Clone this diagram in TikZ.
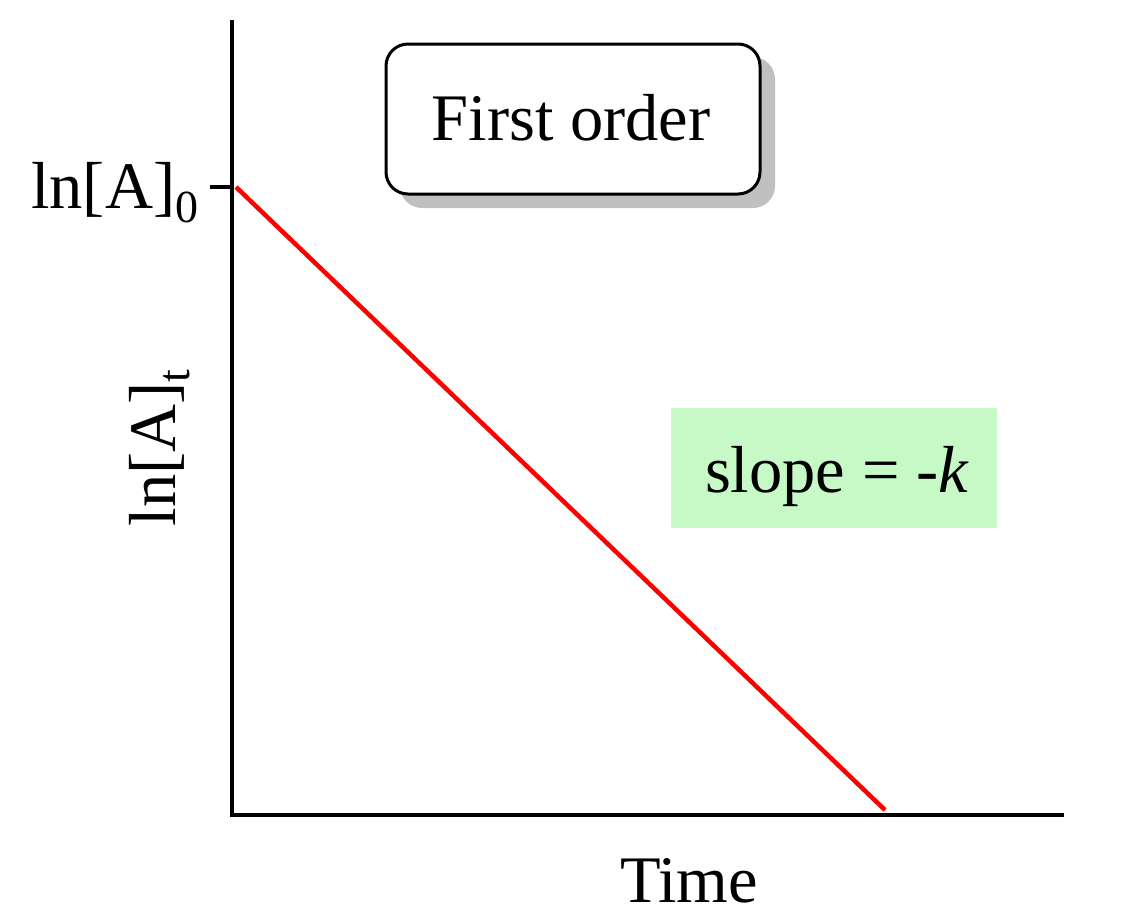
\documentclass[tikz,border=0pt]{standalone}
\usepackage{fontspec}
\setmainfont{Liberation Serif}
\definecolor{slopegreen}{HTML}{C6F9C6}
\definecolor{shadowgray}{HTML}{C0C0C0}
\newcommand{\bigtxt}{\fontsize{66.5}{76}\selectfont}
\newcommand{\subtxt}[1]{\raisebox{-0.22em}{\fontsize{46}{50}\selectfont #1}}
\begin{document}
\begin{tikzpicture}[x=1pt,y=-1pt,
  axis/.style={line width=4.5pt,line cap=rect},
  lbl/.style={font=\bigtxt,inner sep=0pt,anchor=base},
  titlebox/.style={draw,line width=3pt,rounded corners=22pt,fill=white},
  greenbox/.style={fill=slopegreen}]
\useasboundingbox (0,0) rectangle (1128,922);
% axes
\coordinate (top) at (232,22);
\coordinate (origin) at (232,815);
\coordinate (xend) at (1062,815);
\coordinate (tickl) at (210,187);
\coordinate (tickr) at (232,187);
\draw[axis] (top) -- (origin) -- (xend);
\draw[line width=4.5pt] (tickl) -- (tickr);
% red line
\coordinate (rs) at (236,187);
\coordinate (re) at (885,810);
\draw[red,line width=4.5pt] (rs) -- (re);
% title box with shadow
\fill[shadowgray,rounded corners=22pt] (400,57) rectangle (775,208);
\draw[titlebox] (386,44) rectangle (760,194);
\node[lbl] (title) at (571,140) {First order};
% slope box
\fill[greenbox] (671,408) rectangle (997,528);
\node[lbl] (slope) at (837,492) {slope = -\textit{k}};
% labels
\node[lbl,anchor=base west] (lnA0) at (31,208) {ln[A]\subtxt{0}};
\node[lbl,rotate=90] (lnAt) at (175,448) {ln[A]\subtxt{t}};
\node[lbl] (time) at (689,902) {Time};
\end{tikzpicture}
\end{document}
